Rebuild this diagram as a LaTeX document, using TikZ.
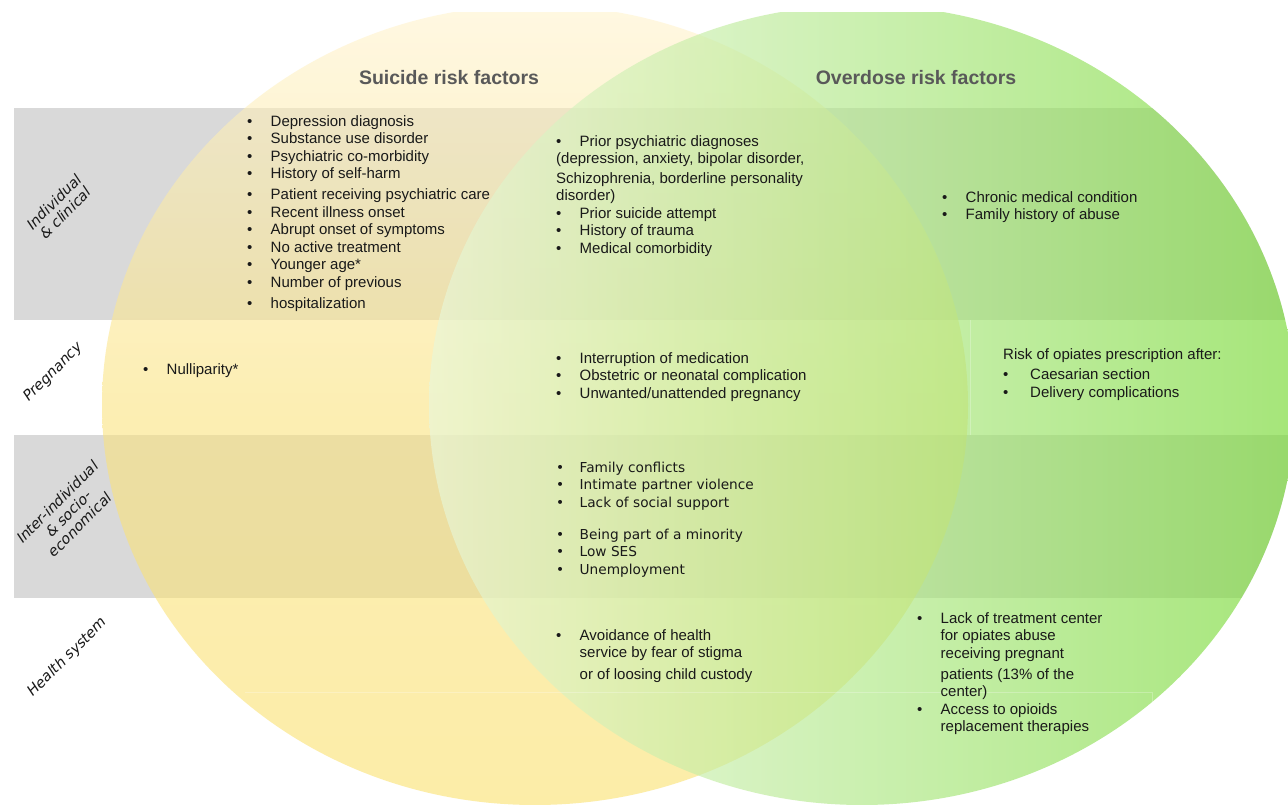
\documentclass[tikz,border=0pt]{standalone}
\usepackage{fontspec}
\setmainfont{Liberation Sans}
\newfontfamily\tahoma{DejaVu Sans}
\newfontfamily\rowfont{DejaVu Sans}[FakeSlant=0.2]
\usepackage{tikz}
\usetikzlibrary{fadings}

\definecolor{bandgray}{RGB}{217,217,217}
\definecolor{suiTop}{RGB}{255,243,205}
\definecolor{suiMid}{RGB}{251,227,125}
\definecolor{suiBot}{RGB}{250,224,105}
\definecolor{odLeft}{RGB}{233,247,218}
\definecolor{odRight}{RGB}{118,217,50}
\definecolor{titlegray}{RGB}{89,89,89}

\tikzfading[name=fade ends, left color=transparent!100, middle color=transparent!0, right color=transparent!100]

% bullet item, and an item line without bullet
\newcommand{\bl}[2][23.5pt]{\makebox[#1][l]{\textbullet}#2}
\newcommand{\nobl}[2][23.5pt]{\makebox[#1]{}#2}

\begin{document}
\begin{tikzpicture}[x=1pt, y=-1pt,
    items/.style={anchor=north west, inner sep=0pt, align=left, text=black!90,
        font=\fontsize{15}{17.5}\selectfont},
    tahitems/.style={items, font=\tahoma\fontsize{13.7}{17.3}\selectfont},
    rowlabel/.style={rotate=45, align=center, inner sep=0pt, text=black!90,
        font=\rowfont\fontsize{14.5}{16}\selectfont},
    heading/.style={text=titlegray, font=\bfseries\fontsize{19.5}{22}\selectfont},
    tblline/.style={white, opacity=0.25, line width=0.8pt}]

    \useasboundingbox (0,0) rectangle (1288,804);
    \fill[white] (0,0) rectangle (1288,804);

    \coordinate (S) at (535,405); % suicide circle
    \coordinate (O) at (862,405); % overdose circle

    % shadow under the circles
    \shade[top color=white, bottom color=black!50, path fading=fade ends] (300,782) rectangle (1288,804);

    % grey rows of the table
    \fill[bandgray] (14,108) rectangle (1000,320); % individual
    \fill[bandgray] (14,435) rectangle (1000,598); % inter-individual
    \begin{scope}
        \clip (O) ellipse [x radius=433, y radius=400];
        \fill[bandgray] (1000,108) rectangle (1288,320);
        \fill[bandgray] (1000,435) rectangle (1288,598);
    \end{scope}

    % circles
    \begin{scope}
        \clip (0,12) rectangle (1288,804);
        \shade[top color=suiTop, bottom color=suiBot, middle color=suiMid, opacity=0.58]
            (S) ellipse [x radius=433, y radius=400];
        \shade[left color=odLeft, right color=odRight, opacity=0.65]
            (O) ellipse [x radius=433, y radius=400];
    \end{scope}

    % cell borders
    \draw[tblline] (970,320) -- (970,435);
    \draw[tblline] (245,692) -- (1152,692) -- (1152,735);

    \node[heading] (titleS) at (449,78) {Suicide risk factors};
    \node[heading] (titleO) at (916,78) {Overdose risk factors};

    % individual & clinical
    \node[items] (sInd) at (247,115) {%
        \bl{Depression diagnosis}\\
        \bl{Substance use disorder}\\
        \bl{Psychiatric co-morbidity}\\
        \bl{History of self-harm}\\[3.5pt]
        \bl{Patient receiving psychiatric care}\\
        \bl{Recent illness onset}\\
        \bl{Abrupt onset of symptoms}\\
        \bl{No active treatment}\\
        \bl{Younger age*}\\
        \bl{Number of previous}\\[3.5pt]
        \bl{hospitalization}};
    \node[items] (bInd) at (556,135) {%
        \bl{Prior psychiatric diagnoses}\\
        (depression, anxiety, bipolar disorder,\\[2pt]
        Schizophrenia, borderline personality\\
        disorder)\\
        \bl{Prior suicide attempt}\\
        \bl{History of trauma}\\
        \bl{Medical comorbidity}};
    \node[items] (oInd) at (942,191) {%
        \bl{Chronic medical condition}\\
        \bl{Family history of abuse}};

    % pregnancy
    \node[items] (sPreg) at (143,363) {\bl{Nulliparity*}};
    \node[items] (bPreg) at (556,352) {%
        \bl{Interruption of medication}\\
        \bl{Obstetric or neonatal complication}\\
        \bl{Unwanted/unattended pregnancy}};
    \node[items] (oPreg) at (1003,348) {%
        Risk of opiates prescription after:\\[3pt]
        \bl[27pt]{Caesarian section}\\
        \bl[27pt]{Delivery complications}};

    % inter-individual & socio-economical
    \node[tahitems] (bSoc) at (556,462) {%
        \bl{Family conflicts}\\
        \bl{Intimate partner violence}\\
        \bl{Lack of social support}\\[15pt]
        \bl{Being part of a minority}\\
        \bl{Low SES}\\
        \bl{Unemployment}};

    % health system
    \node[items] (bHealth) at (556,629) {%
        \bl{Avoidance of health}\\
        \nobl{service by fear of stigma}\\[4pt]
        \nobl{or of loosing child custody}};
    \node[items] (oHealth) at (917,612) {%
        \bl{Lack of treatment center}\\
        \nobl{for opiates abuse}\\
        \nobl{receiving pregnant}\\[3.5pt]
        \nobl{patients (13\% of the}\\
        \nobl{center)}\\
        \bl{Access to opioids}\\
        \nobl{replacement therapies}};

    % row titles
    \node[rowlabel] (rowInd) at (59,208) {Individual\\\& clinical};
    \node[rowlabel] (rowPreg) at (53,373) {Pregnancy};
    \node[rowlabel] (rowSoc) at (68,514) {Inter-individual\\\& socio-\\economical};
    \node[rowlabel] (rowHealth) at (67,658) {Health system};

\end{tikzpicture}
\end{document}
